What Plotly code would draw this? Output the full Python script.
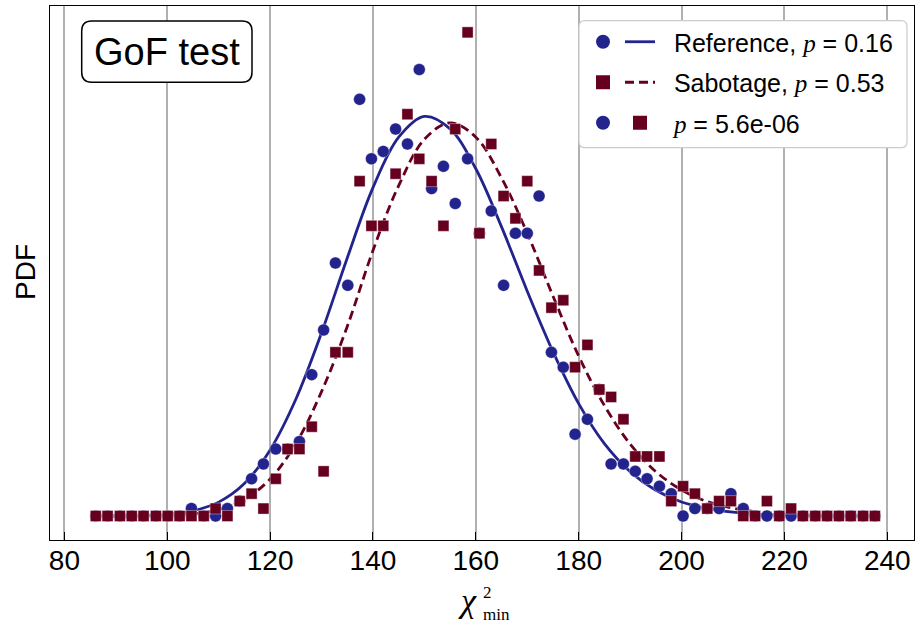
import plotly.graph_objects as go

# ---------------- data ----------------
bin_centers = [86.1, 88.4, 90.8, 93.1, 95.4, 97.8, 100.1, 102.4, 104.7, 107.1,
               109.4, 111.7, 114.1, 116.4, 118.7, 121.1, 123.4, 125.7, 128.1, 130.4,
               132.7, 135.1, 137.4, 139.7, 142.0, 144.4, 146.7, 149.0, 151.4, 153.7,
               156.0, 158.4, 160.7, 163.0, 165.4, 167.7, 170.0, 172.3, 174.7, 177.0,
               179.3, 181.7, 184.0, 186.3, 188.7, 191.0, 193.3, 195.7, 198.0, 200.3,
               202.6, 205.0, 207.3, 209.6, 212.0, 214.3, 216.6, 219.0, 221.3, 223.6,
               226.0, 228.3, 230.6, 232.9, 235.3, 237.6]
bin_width = 2.331
n_samples = 1000

reference_counts = [0, 0, 0, 0, 0, 0, 0, 0, 1, 0,
                    0, 1, 2, 5, 7, 9, 9, 10, 19, 25,
                    34, 31, 56, 48, 49, 52, 50, 60, 44, 47,
                    42, 48, 38, 41, 31, 38, 38, 43, 22, 20,
                    11, 13, 17, 7, 7, 6, 5, 4, 3, 0,
                    1, 1, 1, 3, 1, 0, 0, 0, 0, 0,
                    0, 0, 0, 0, 0, 0]
sabotage_counts = [0, 0, 0, 0, 0, 0, 0, 0, 0, 0,
                   1, 0, 2, 3, 1, 5, 9, 9, 12, 6,
                   22, 22, 45, 39, 39, 46, 54, 48, 45, 39,
                   52, 65, 38, 50, 43, 40, 45, 33, 28, 29,
                   20, 23, 17, 16, 13, 8, 8, 8, 2, 4,
                   3, 1, 2, 2, 0, 0, 2, 0, 1, 0,
                   0, 0, 0, 0, 0, 0]

curve_x = [86, 90, 95, 100, 105, 110, 115, 120, 125, 130, 135, 140, 145, 150,
           155, 160, 165, 170, 175, 180, 185, 190, 195, 200, 205, 210, 215, 220,
           225, 230, 238]
reference_fit = [0.0, 0.0, 0.00002, 0.00009, 0.00030, 0.00080, 0.00187, 0.00381,
                 0.00673, 0.01056, 0.01488, 0.01893, 0.02184, 0.02304, 0.02232,
                 0.02002, 0.01667, 0.01296, 0.00948, 0.00648, 0.00417, 0.00256,
                 0.00148, 0.00081, 0.00044, 0.00022, 0.00010, 0.00005, 0.00002,
                 0.00001, 0.0]
sabotage_fit = [0.0, 0.0, 0.0, 0.00003, 0.00012, 0.00037, 0.00095, 0.00213,
                0.00417, 0.00717, 0.01093, 0.01531, 0.01905, 0.02172, 0.02267,
                0.02184, 0.01949, 0.01630, 0.01268, 0.00922, 0.00637, 0.00415,
                0.00256, 0.00150, 0.00083, 0.00045, 0.00023, 0.00011, 0.00005,
                0.00002, 0.0]

PI = "<span style='font-family:Liberation Serif'><i>p</i></span>"
GAP = "\u00a0\u00a0"
label_reference = GAP + "Reference, " + PI + " = 0.16"
label_sabotage = GAP + "Sabotage, " + PI + " = 0.53"
label_combined = GAP + PI + " = 5.6e-06"

NAVY = "#23238e"
MAROON = "#67001f"

norm = n_samples * bin_width
reference_pdf = [c / norm for c in reference_counts]
sabotage_pdf = [c / norm for c in sabotage_counts]

# ---------------- geometry helpers (figure pixels -> paper) ----------------
W, H = 915, 623
ML, MR, MT, MB = 50, 1, 6, 83
PW, PH = W - ML - MR, H - MT - MB


def px(x):
    return (x - ML) / PW


def py(y):
    return (H - MB - y) / PH


def rounded_rect(x0, y0, x1, y1, r):
    def P(a, b):
        return f"{px(a):.5f},{py(b):.5f}"
    return (f"M{P(x0+r, y0)} L{P(x1-r, y0)} Q{P(x1, y0)} {P(x1, y0+r)} "
            f"L{P(x1, y1-r)} Q{P(x1, y1)} {P(x1-r, y1)} L{P(x0+r, y1)} "
            f"Q{P(x0, y1)} {P(x0, y1-r)} L{P(x0, y0+r)} Q{P(x0, y0)} {P(x0+r, y0)} Z")


fig = go.Figure()

# data
fig.add_trace(go.Scatter(x=curve_x, y=reference_fit, mode="lines",
                         line=dict(color=NAVY, width=2.8, shape="spline"),
                         name=label_reference, legend="legend2",
                         legendgroup="d", legendrank=1, showlegend=True))
fig.add_trace(go.Scatter(x=curve_x, y=sabotage_fit, mode="lines",
                         line=dict(color=MAROON, width=2.8, shape="spline", dash="9px,5px"),
                         name=label_sabotage, legend="legend2",
                         legendgroup="e", legendrank=2, showlegend=True))
fig.add_trace(go.Scatter(x=bin_centers, y=reference_pdf, mode="markers",
                         marker=dict(symbol="circle", size=12, color=NAVY,
                                     line=dict(width=0.6, color="rgba(255,255,255,0.6)")),
                         name="Reference", showlegend=False))
fig.add_trace(go.Scatter(x=bin_centers, y=sabotage_pdf, mode="markers",
                         marker=dict(symbol="square", size=11, color=MAROON,
                                     line=dict(width=0.6, color="rgba(255,255,255,0.6)")),
                         name="Sabotage", showlegend=False))

# legend glyph entries (no data)
for sym, col, grp, rank, leg, nm in [
        ("circle", NAVY, "a", 1, "legend", " "),
        ("square", MAROON, "b", 2, "legend", " "),
        ("circle", NAVY, "c", 3, "legend", " "),
        ("square", MAROON, "f", 3, "legend2", label_combined)]:
    fig.add_trace(go.Scatter(x=[None], y=[None], mode="markers",
                             marker=dict(symbol=sym, size=14, color=col),
                             name=nm, legend=leg, legendgroup=grp,
                             legendrank=rank, showlegend=True))

legend_font = dict(family="Liberation Sans", size=25, color="black")
common_legend = dict(font=legend_font, bgcolor="rgba(0,0,0,0)", borderwidth=0,
                     tracegroupgap=5, xanchor="left", yanchor="top",
                     itemsizing="trace")

fig.update_layout(
    width=W, height=H,
    margin=dict(l=ML, r=MR, t=MT, b=MB),
    paper_bgcolor="white", plot_bgcolor="white",
    font=dict(family="Liberation Sans", color="black"),
    legend=dict(x=px(583), y=py(19), **common_legend),
    legend2=dict(x=px(620), y=py(19), **common_legend),
    xaxis=dict(range=[77.2, 245.2], tickmode="linear", tick0=80, dtick=20,
               showgrid=True, gridcolor="#b0b0b0", gridwidth=1.5,
               showline=True, linecolor="black", linewidth=1.3, mirror=True,
               ticks="inside", ticklen=8, tickwidth=1.3, tickcolor="black",
               ticklabelstandoff=-5,
               tickfont=dict(family="Liberation Sans", size=28, color="black"),
               zeroline=False),
    yaxis=dict(range=[-0.001384, 0.029405], showgrid=False, zeroline=False,
               showticklabels=False, ticks="",
               showline=True, linecolor="black", linewidth=1.3, mirror=True),
    shapes=[
        dict(type="path", xref="paper", yref="paper", layer="above",
             path=rounded_rect(81.7, 21, 252, 82.3, 10),
             line=dict(color="black", width=1.5), fillcolor="white"),
        dict(type="path", xref="paper", yref="paper", layer="above",
             path=rounded_rect(579, 20.7, 907, 147.7, 6),
             line=dict(color="#cccccc", width=1.2), fillcolor="white"),
    ],
    annotations=[
        dict(text="GoF test", x=px(167), y=py(52), xref="paper", yref="paper",
             showarrow=False, xanchor="center", yanchor="middle",
             font=dict(family="Liberation Sans", size=38, color="black")),
        dict(text="PDF", x=px(25), y=py(272), xref="paper", yref="paper",
             showarrow=False, textangle=-90, xanchor="center", yanchor="middle",
             font=dict(family="Liberation Sans", size=28, color="black")),
        dict(text="<i>χ</i>", x=px(479), y=py(600), xref="paper", yref="paper",
             showarrow=False, xanchor="right", yanchor="middle",
             font=dict(family="Liberation Serif", size=34, color="black")),
        dict(text="2<br>min", x=px(481), y=py(603), xref="paper", yref="paper",
             showarrow=False, xanchor="left", yanchor="middle", align="left",
             font=dict(family="Liberation Serif", size=17, color="black")),
    ],
)

fig.write_html("out.html", config={"displayModeBar": False},
               post_script="document.body.style.margin='0px';")
